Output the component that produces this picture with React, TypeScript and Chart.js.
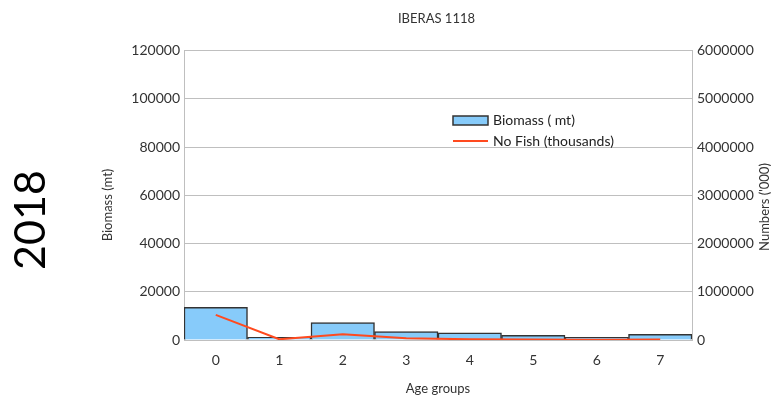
import React, { useEffect, useRef } from "react";
import { Chart, registerables } from "chart.js";

Chart.register(...registerables);

const categories = ["0", "1", "2", "3", "4", "5", "6", "7"];
const biomass = [13500, 1100, 7200, 3450, 3000, 1900, 1100, 2350];
const numbers = [520000, 15000, 118000, 35000, 15000, 8000, 5000, 10000];
const chartTitle = "IBERAS 1118";
const yearLabel = "2018";
const leftTitle = "Biomass (mt)";
const rightTitle = "Numbers ('000)";
const xTitle = "Age groups";
const biomassLabel = "Biomass ( mt)";
const numbersLabel = "No Fish (thousands)";

const FONT = "Lato, 'Open Sans', sans-serif";
const TEXT = "#333333";
const BAR_FILL = "#87CBFA";
const BAR_BORDER = "#333333";
const LINE = "#FF4A1F";
const GRID = "#bfbfbf";

const overlay = {
  id: "overlayText",
  afterDraw(chart: any) {
    const ctx = chart.ctx;
    ctx.save();
    ctx.fillStyle = "#000";
    ctx.textAlign = "center";
    ctx.textBaseline = "middle";
    // year
    ctx.save();
    ctx.translate(31, 220);
    ctx.rotate(-Math.PI / 2);
    ctx.font = `43px ${FONT}`;
    ctx.fillText(yearLabel, 0, 0);
    ctx.restore();
    // axis titles
    ctx.fillStyle = TEXT;
    ctx.font = `13px ${FONT}`;
    ctx.save();
    ctx.translate(108, 205);
    ctx.rotate(-Math.PI / 2);
    ctx.fillText(leftTitle, 0, 0);
    ctx.restore();
    ctx.save();
    ctx.translate(765, 207);
    ctx.rotate(-Math.PI / 2);
    ctx.fillText(rightTitle, 0, 0);
    ctx.restore();
    // legend
    ctx.fillStyle = BAR_FILL;
    ctx.fillRect(453, 116, 35, 9);
    ctx.strokeStyle = BAR_BORDER;
    ctx.lineWidth = 1.5;
    ctx.strokeRect(453, 116, 35, 9);
    ctx.strokeStyle = LINE;
    ctx.lineWidth = 2;
    ctx.beginPath();
    ctx.moveTo(453, 141);
    ctx.lineTo(488, 141);
    ctx.stroke();
    ctx.fillStyle = "#222";
    ctx.font = `14px ${FONT}`;
    ctx.textAlign = "left";
    ctx.fillText(biomassLabel, 493, 120.5);
    ctx.fillText(numbersLabel, 493, 141);
    ctx.restore();
  },
};

export default function App() {
  const ref = useRef<HTMLCanvasElement | null>(null);
  useEffect(() => {
    document.body.style.margin = "0";
    if (!ref.current) return;
    const chart = new Chart(ref.current, {
      type: "bar",
      data: {
        labels: categories,
        datasets: [
          {
            type: "line",
            label: numbersLabel,
            data: numbers,
            yAxisID: "y1",
            borderColor: LINE,
            backgroundColor: LINE,
            borderWidth: 2,
            pointRadius: 0,
            tension: 0,
            order: 1,
          } as any,
          {
            type: "bar",
            label: biomassLabel,
            data: biomass,
            yAxisID: "y",
            backgroundColor: BAR_FILL,
            borderColor: BAR_BORDER,
            borderWidth: 1.5,
            barPercentage: 1,
            categoryPercentage: 1,
            order: 2,
          } as any,
        ],
      },
      options: {
        animation: false,
        responsive: true,
        maintainAspectRatio: false,
        layout: { padding: { left: 100, right: 0, top: 0, bottom: 0 } },
        plugins: {
          legend: { display: false },
          tooltip: { enabled: false },
          title: {
            display: true,
            text: chartTitle,
            color: TEXT,
            font: { family: FONT, size: 13, weight: "normal" },
            padding: { top: 11, bottom: 24 },
          },
        },
        scales: {
          x: {
            grid: { display: false, drawTicks: false },
            border: { display: true, color: GRID },
            ticks: { padding: 12, color: TEXT, font: { family: FONT, size: 14 } },
            title: {
              display: true,
              text: xTitle,
              color: TEXT,
              font: { family: FONT, size: 13 },
              padding: { top: 0, bottom: 3 },
            },
            afterFit: (s: any) => {
              s.height = 60;
            },
          },
          y: {
            position: "left",
            min: 0,
            max: 120000,
            ticks: {
              stepSize: 20000,
              padding: 4,
              color: TEXT,
              font: { family: FONT, size: 14 },
              callback: (v: any) => String(v),
            },
            grid: { color: GRID, drawTicks: false },
            border: { color: GRID },
            afterFit: (s: any) => {
              s.width = 84;
            },
          },
          y1: {
            position: "right",
            min: 0,
            max: 6000000,
            ticks: {
              stepSize: 1000000,
              padding: 5,
              color: TEXT,
              font: { family: FONT, size: 14 },
              callback: (v: any) => String(v),
            },
            grid: { display: false, drawTicks: false },
            border: { color: GRID },
            afterFit: (s: any) => {
              s.width = 81;
            },
          },
        },
      } as any,
      plugins: [overlay],
    });
    return () => chart.destroy();
  }, []);
  return (
    <div style={{ position: "relative", width: 773, height: 400, background: "#fff" }}>
      <canvas ref={ref} />
    </div>
  );
}
